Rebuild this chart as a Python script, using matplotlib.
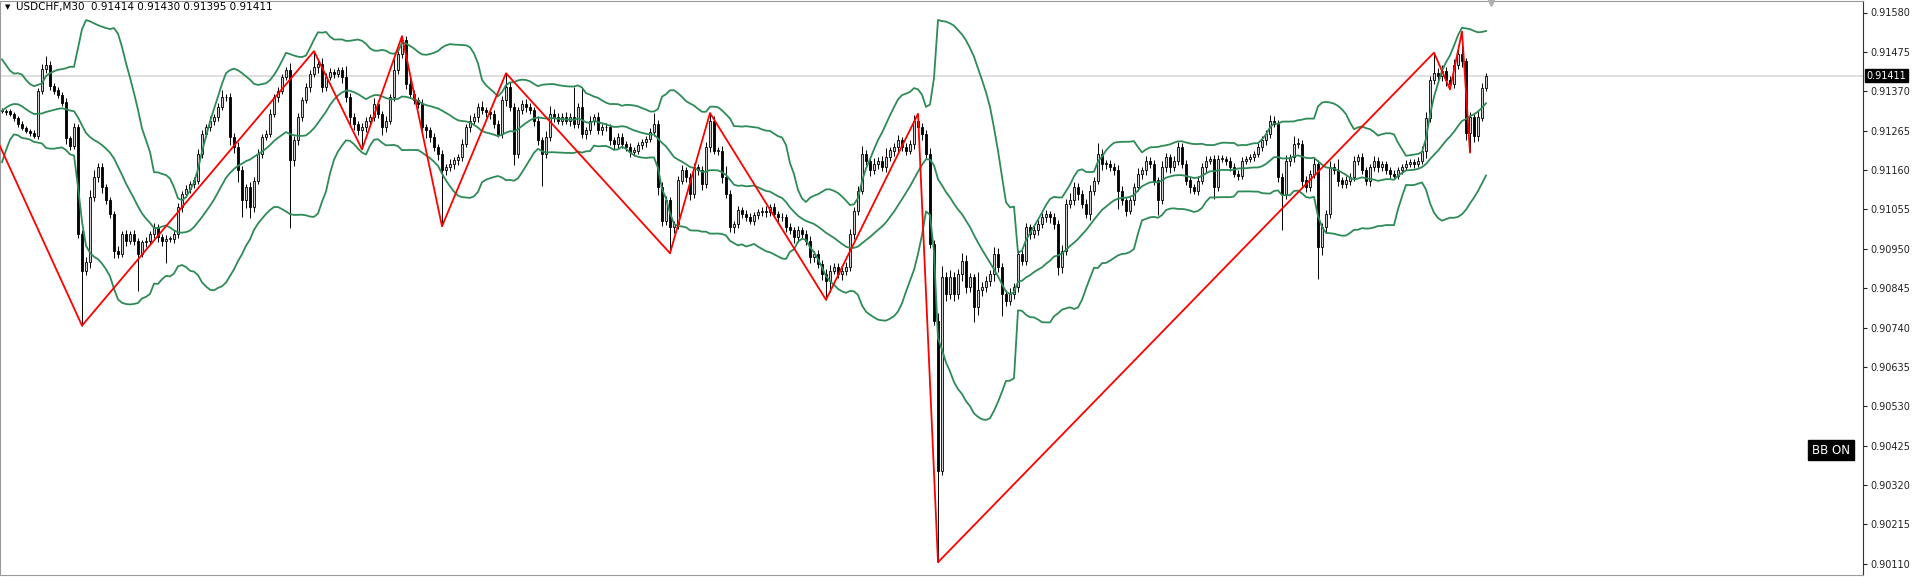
import numpy as np
import pandas as pd
import matplotlib
matplotlib.use('Agg')
import matplotlib.pyplot as plt
import matplotlib.transforms as mtrans

symbol = 'USDCHF,M30'
last_ohlc = ['0.91414', '0.91430', '0.91395', '0.91411']
last_price = 0.91411

# prices in points (1e-5). 19 bars left of the screen only feed the bands
pre_close = [91150, 91180, 91230, 91300, 91380, 91420, 91400, 91370, 91350, 91420,
             91360, 91330, 91320, 91300, 91310, 91290, 91300, 91310, 91320]

close = [
    91318, 91316, 91309, 91299, 91283, 91272, 91265, 91260, 91252, 91370,
    91430, 91440, 91385, 91372, 91360, 91340, 91245, 91225, 91275, 90990,
    90892, 90914, 91088, 91141, 91168, 91114, 91079, 91043, 90945, 90937,
    90990, 90972, 90990, 90972, 90937, 90968, 90972, 90990, 91008, 90981,
    90972, 90977, 90977, 90990, 91061, 91097, 91110, 91123, 91132, 91203,
    91257, 91274, 91292, 91301, 91328, 91354, 91354, 91248, 91221, 91159,
    91079, 91114, 91061, 91132, 91203, 91248, 91257, 91310, 91354, 91372,
    91408, 91426, 91186, 91239, 91301, 91346, 91381, 91417, 91435, 91443,
    91381, 91408, 91421, 91417, 91426, 91408, 91354, 91301, 91283, 91266,
    91274, 91292, 91301, 91337, 91310, 91274, 91292, 91354, 91426, 91470,
    91506, 91390, 91363, 91346, 91337, 91274, 91266, 91248, 91221, 91203,
    91159, 91168, 91177, 91186, 91194, 91230, 91274, 91292, 91301, 91328,
    91319, 91314, 91310, 91283, 91257, 91346, 91381, 91328, 91203, 91319,
    91337, 91328, 91319, 91292, 91239, 91203, 91248, 91310, 91301, 91292,
    91301, 91292, 91301, 91283, 91328, 91257, 91266, 91292, 91301, 91266,
    91274, 91274, 91239, 91230, 91248, 91230, 91221, 91208, 91212, 91226,
    91234, 91243, 91261, 91283, 91114, 91025, 91079, 91008, 91016, 91132,
    91159, 91141, 91096, 91168, 91159, 91123, 91221, 91292, 91212, 91212,
    91141, 91096, 91008, 91016, 91052, 91043, 91034, 91025, 91039, 91047,
    91052, 91047, 91061, 91043, 91034, 91034, 91008, 90999, 90981, 90999,
    90990, 90972, 90927, 90936, 90910, 90883, 90865, 90892, 90901, 90883,
    90892, 90901, 90990, 91052, 91105, 91203, 91185, 91159, 91176, 91185,
    91168, 91194, 91212, 91221, 91239, 91221, 91212, 91230, 91292, 91274,
    91256, 91203, 90963, 90758, 90358, 90874, 90830, 90874, 90830, 90883,
    90918, 90847, 90874, 90794, 90839, 90847, 90865, 90883, 90936, 90901,
    90830, 90812, 90830, 90847, 90936, 90918, 91007, 90990, 90999, 91016,
    91034, 91043, 91034, 91016, 90901, 90945, 91070, 91079, 91114, 91096,
    91070, 91043, 91105, 91132, 91203, 91176, 91176, 91168, 91159, 91105,
    91079, 91052, 91079, 91114, 91150, 91159, 91185, 91176, 91132, 91079,
    91168, 91194, 91168, 91185, 91221, 91176, 91132, 91114, 91105, 91132,
    91168, 91185, 91190, 91114, 91190, 91190, 91185, 91168, 91150, 91145,
    91185, 91190, 91194, 91203, 91221, 91239, 91256, 91292, 91283, 91141,
    91096, 91185, 91194, 91230, 91230, 91132, 91114, 91150, 91176, 90954,
    91007, 91043, 91168, 91159, 91132, 91123, 91132, 91141, 91185, 91194,
    91159, 91132, 91168, 91185, 91168, 91176, 91159, 91150, 91145, 91159,
    91168, 91176, 91181, 91176, 91185, 91212, 91300, 91400, 91420, 91410,
    91425, 91400, 91390, 91440, 91470, 91450, 91260, 91300, 91250, 91300,
    91380, 91411]

# upper / lower shadow beyond the body, points
up = [
    6, 5, 8, 6, 5, 7, 6, 5, 8, 10, 12, 25, 10, 8, 9, 7, 12, 6, 10, 8,
    10, 15, 20, 20, 12, 10, 8, 10, 9, 12, 8, 10, 7, 9, 8, 6, 10, 8, 12, 9,
    8, 10, 6, 9, 12, 8, 10, 7, 9, 12, 10, 8, 12, 9, 10, 20, 8, 12, 10, 15,
    12, 10, 15, 9, 12, 8, 10, 12, 9, 10, 8, 10, 20, 12, 10, 8, 12, 10, 8, 12,
    15, 10, 12, 9, 10, 8, 30, 12, 10, 8, 12, 10, 9, 15, 10, 8, 12, 10, 30, 12,
    10, 12, 15, 10, 9, 12, 10, 8, 12, 9, 10, 8, 12, 10, 9, 12, 10, 15, 10, 12,
    15, 10, 12, 9, 10, 12, 10, 15, 12, 10, 9, 12, 10, 8, 12, 10, 15, 20, 12, 10,
    12, 15, 10, 80, 12, 50, 10, 12, 9, 15, 10, 12, 9, 10, 12, 10, 8, 10, 9, 10,
    10, 8, 12, 30, 10, 15, 12, 10, 9, 12, 15, 10, 12, 10, 9, 12, 15, 10, 12, 10,
    12, 30, 10, 8, 12, 9, 10, 12, 8, 10, 9, 12, 8, 10, 9, 12, 8, 10, 9, 12,
    10, 9, 12, 8, 10, 9, 12, 15, 10, 12, 9, 15, 12, 10, 12, 20, 10, 12, 15, 10,
    12, 25, 10, 12, 15, 10, 12, 10, 15, 10, 12, 10, 15, 10, 20, 30, 15, 20, 15, 12,
    20, 15, 12, 10, 50, 15, 12, 10, 20, 15, 12, 10, 15, 12, 10, 15, 12, 10, 12, 10,
    12, 10, 9, 12, 10, 15, 12, 20, 15, 12, 10, 12, 15, 10, 30, 12, 10, 12, 10, 15,
    12, 10, 9, 12, 15, 10, 12, 10, 12, 10, 15, 12, 10, 12, 15, 10, 12, 9, 10, 12,
    10, 12, 8, 10, 9, 10, 8, 10, 12, 9, 10, 8, 10, 9, 10, 12, 10, 15, 12, 10,
    12, 15, 10, 20, 15, 10, 12, 10, 15, 10, 12, 10, 15, 12, 30, 10, 12, 10, 12, 10,
    12, 10, 9, 12, 10, 9, 8, 10, 9, 10, 8, 10, 9, 8, 10, 12, 15, 12, 10, 12,
    15, 10, 12, 15, 20, 12, 10, 15, 12, 20, 12, 8]
dn = [
    6, 8, 5, 7, 8, 6, 5, 8, 6, 10, 8, 10, 12, 9, 8, 10, 15, 12, 8, 10,
    10, 12, 15, 10, 12, 15, 10, 12, 20, 12, 10, 15, 10, 12, 100, 10, 12, 8, 10, 12,
    15, 60, 10, 12, 10, 12, 9, 10, 12, 10, 12, 10, 9, 12, 10, 8, 10, 20, 15, 30,
    45, 20, 30, 12, 10, 12, 9, 10, 8, 12, 10, 9, 180, 15, 12, 10, 8, 12, 10, 15,
    12, 10, 9, 12, 10, 15, 12, 20, 15, 12, 10, 12, 15, 10, 12, 20, 12, 10, 9, 10,
    10, 15, 12, 10, 12, 10, 20, 12, 10, 15, 10, 12, 10, 15, 12, 10, 9, 12, 10, 12,
    10, 12, 15, 12, 10, 12, 15, 10, 30, 12, 10, 12, 10, 15, 12, 85, 12, 10, 12, 10,
    12, 10, 15, 12, 10, 12, 15, 10, 12, 9, 12, 10, 12, 15, 10, 12, 10, 12, 10, 9,
    10, 12, 9, 10, 20, 15, 12, 10, 15, 12, 10, 12, 15, 10, 12, 15, 10, 12, 10, 12,
    15, 10, 12, 15, 10, 12, 9, 10, 12, 10, 9, 12, 10, 9, 12, 10, 12, 10, 15, 12,
    10, 12, 15, 12, 10, 15, 12, 30, 10, 12, 15, 12, 10, 15, 12, 10, 12, 15, 10, 12,
    10, 12, 10, 15, 12, 10, 12, 10, 15, 12, 15, 12, 10, 10, 0, 10, 20, 15, 20, 15,
    20, 15, 12, 40, 20, 15, 12, 15, 20, 12, 60, 15, 12, 15, 12, 10, 12, 15, 10, 12,
    10, 12, 15, 12, 20, 15, 12, 10, 12, 15, 12, 10, 15, 12, 10, 15, 12, 10, 12, 50,
    12, 15, 10, 12, 10, 15, 12, 10, 12, 40, 10, 12, 15, 10, 12, 10, 12, 15, 10, 12,
    10, 12, 9, 30, 10, 9, 12, 10, 9, 12, 10, 9, 8, 10, 9, 10, 12, 10, 9, 12,
    95, 12, 15, 12, 10, 15, 12, 10, 12, 85, 20, 15, 12, 10, 15, 12, 10, 12, 10, 12,
    10, 12, 15, 10, 12, 10, 9, 12, 10, 9, 10, 9, 8, 10, 9, 10, 20, 12, 10, 12,
    12, 15, 10, 12, 10, 15, 20, 12, 15, 12, 10, 8]

# ZigZag turning points (bar index, price in points)
zz_idx = [-10, 20, 78, 90, 100, 110, 126, 167, 177, 206, 229, 234, 358, 362, 365, 367]
zz_pts = [91445, 90745, 91477, 91215, 91517, 91010, 91418, 90938, 91312, 90814,
          91310, 90114, 91473, 91375, 91529, 91207]

price_ticks = [0.90110, 0.90215, 0.90320, 0.90425, 0.90530, 0.90635, 0.90740, 0.90845,
               0.90950, 0.91055, 0.91160, 0.91265, 0.91370, 0.91475, 0.91580]

bb_period = 20
bb_dev = 2

allc = np.array(pre_close + close) / 1e5
npre = len(pre_close)
c = allc[npre:]
o = allc[npre - 1:-1]
hi = np.maximum(o, c) + np.array(up) / 1e5
lo = np.minimum(o, c) - np.array(dn) / 1e5
for i, p in zip(zz_idx, zz_pts):
    if 0 <= i < len(c):
        p = p / 1e5
        if p > c[i]:
            hi[i] = max(hi[i], p)
        else:
            lo[i] = min(lo[i], p)

s = pd.Series(allc)
mid = s.rolling(bb_period).mean().to_numpy()[npre:]
sd = s.rolling(bb_period).std(ddof=0).to_numpy()[npre:]
x = np.arange(len(c))

W, H = 1913, 577
fig = plt.figure(figsize=(W / 100, H / 100), dpi=100)
ax = fig.add_axes([0, 2 / H, 1863 / W, 574.5 / H])

ax.axhline(last_price, color='#d9d9d9', lw=1.2, zorder=1)

bull = c >= o
bottom = np.minimum(o, c)
height = np.maximum(np.abs(c - o), 0.000015)
ax.vlines(x, lo, hi, color='black', lw=0.7, zorder=2)
ax.bar(x[bull], height[bull], bottom=bottom[bull], width=0.7,
       facecolor='#d0d0d0', edgecolor='black', linewidth=0.6, zorder=3)
ax.bar(x[~bull], height[~bull], bottom=bottom[~bull], width=0.7,
       facecolor='black', edgecolor='black', linewidth=0.6, zorder=3)

green = '#2e8b57'
ax.plot(x, mid + bb_dev * sd, color=green, lw=1.3, zorder=4)
ax.plot(x, mid, color=green, lw=1.3, zorder=4)
ax.plot(x, mid - bb_dev * sd, color=green, lw=1.3, zorder=4)

ax.plot(zz_idx, np.array(zz_pts) / 1e5, color='red', lw=1.3, zorder=5)

ax.set_xlim(-0.5, 465.25)
ax.set_ylim(0.90080, 0.91612)
ax.set_xticks([])
ax.yaxis.tick_right()
ax.set_yticks(price_ticks)
ax.set_yticklabels([f'{v:.5f}' for v in price_ticks])
ax.tick_params(axis='y', length=3, width=0.8, pad=2, labelsize=7, colors='#222222')

for side in ['top', 'left', 'bottom']:
    ax.spines[side].set_color('#9a9a9a')
    ax.spines[side].set_linewidth(0.8)
ax.spines['right'].set_color('#333333')
ax.spines['right'].set_linewidth(0.8)

# chart shift marker at the top
tr = mtrans.blended_transform_factory(ax.transData, ax.transAxes)
ax.plot([len(c) + 0.2], [0.995], marker='v', color='#b0b0b0', ms=5,
        transform=tr, clip_on=False, zorder=6)

# current price tag on the scale
tr2 = mtrans.blended_transform_factory(ax.transAxes, ax.transData)
ax.text(1.002, last_price, f'{last_price:.5f}', transform=tr2, color='white',
        fontsize=7, va='center', ha='left',
        bbox=dict(boxstyle='square,pad=0.15', facecolor='black', edgecolor='black'))

fig.text(5 / W, 1 - 7 / H, '▼', fontsize=5, va='center', ha='left')
fig.text(16 / W, 1 - 7 / H, symbol + '  ' + ' '.join(last_ohlc),
         fontsize=7.5, va='center', ha='left')

fig.text(1831 / W, 1 - 450 / H, 'BB ON', color='white', fontsize=8.5,
         va='center', ha='center',
         bbox=dict(boxstyle='square,pad=0.3', facecolor='black', edgecolor='black'))

fig.savefig('out.png', dpi=100)
